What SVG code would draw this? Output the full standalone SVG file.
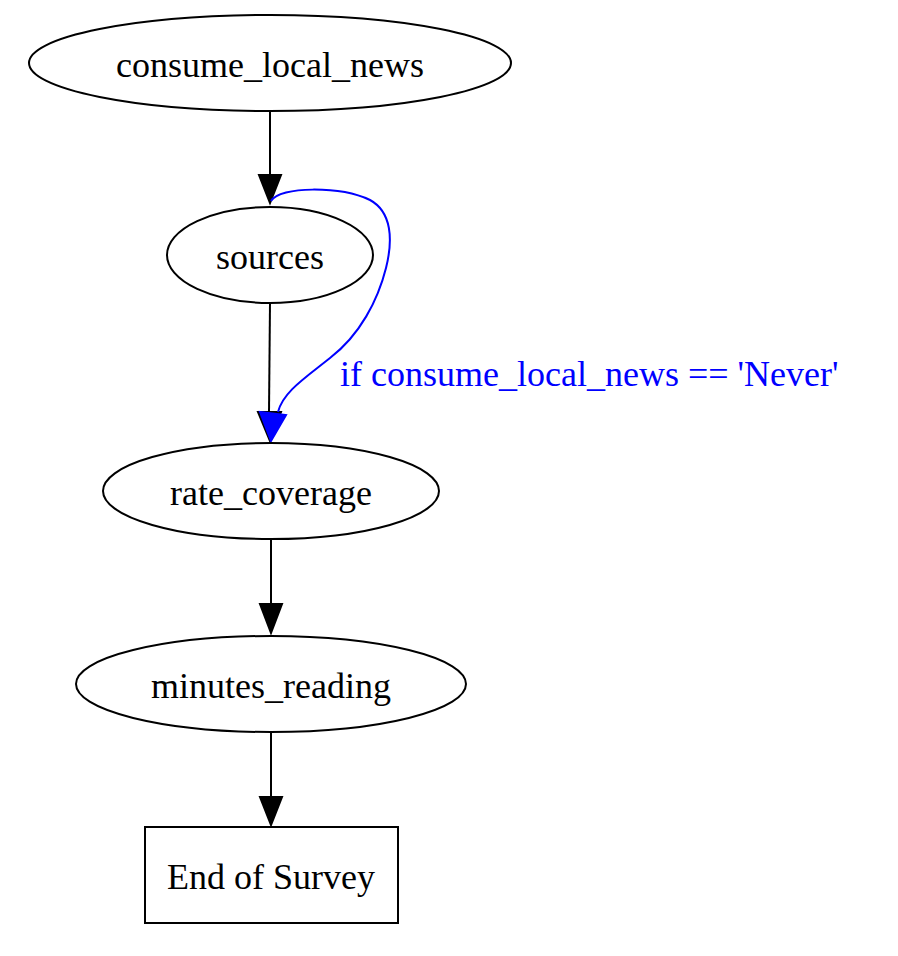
<svg xmlns="http://www.w3.org/2000/svg" width="898" height="956" viewBox="0 0 898 956">
<defs>
<style>
.node ellipse, .node rect { fill: #ffffff; stroke: #000000; stroke-width: 2; }
.node text { font-family: "Liberation Serif", "Times New Roman", serif; font-size: 36px; fill: #000000; text-anchor: middle; }
.edge path { fill: none; stroke: #000000; stroke-width: 2; }
.edge polygon { fill: #000000; stroke: #000000; stroke-width: 2; }
.edge.cond path { stroke: #0000ff; }
.edge.cond polygon { fill: #0000ff; stroke: #0000ff; }
.edge text { font-family: "Liberation Serif", "Times New Roman", serif; font-size: 36px; fill: #0000ff; }
</style>
</defs>
<rect width="898" height="956" fill="#ffffff"/>
<g id="connectors">
<g class="edge" id="e1">
<path d="M270,112 L270,175"/>
<polygon points="259,175 281,175 270,203"/>
</g>
<g class="edge" id="e2">
<path d="M270,303 L269,412"/>
<polygon points="258,412 281,412 270,441"/>
</g>
<g class="edge cond" id="e3">
<path d="M271,201 C280,186 340,186 370,200 C392,212 393,240 386,268 C378,300 360,335 330,358 C305,378 283,392 278,412"/>
<polygon points="260,412 286,415 271,441"/>
<text x="340" y="386">if consume_local_news == 'Never'</text>
</g>
<g class="edge" id="e4">
<path d="M271,539 L271,604"/>
<polygon points="260,604 282,604 271,633"/>
</g>
<g class="edge" id="e5">
<path d="M271,732 L271,797"/>
<polygon points="260,797 282,797 271,825"/>
</g>
</g>
<g class="node" id="consume_local_news">
<ellipse cx="270" cy="63" rx="241" ry="48"/>
<text x="270" y="77">consume_local_news</text>
</g>
<g class="node" id="sources">
<ellipse cx="270" cy="255" rx="103" ry="48"/>
<text x="270" y="269">sources</text>
</g>
<g class="node" id="rate_coverage">
<ellipse cx="271" cy="491" rx="168" ry="48"/>
<text x="271" y="505">rate_coverage</text>
</g>
<g class="node" id="minutes_reading">
<ellipse cx="271" cy="684" rx="195" ry="48"/>
<text x="271" y="698">minutes_reading</text>
</g>
<g class="node" id="end_of_survey">
<rect x="145" y="827" width="253" height="96"/>
<text x="271" y="889">End of Survey</text>
</g>
</svg>
